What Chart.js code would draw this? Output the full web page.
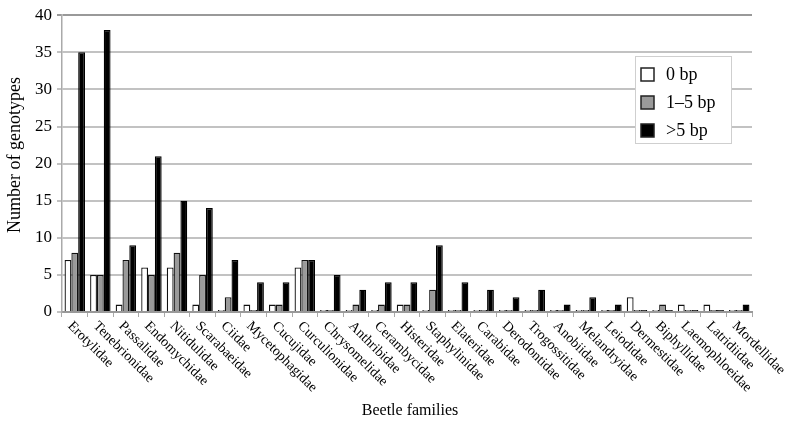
<!DOCTYPE html>
<html><head><meta charset="utf-8">
<script src="https://cdn.jsdelivr.net/npm/chart.js@4"></script>
<style>html,body{margin:0;padding:0;background:#fff}#wrap{width:790px;height:426px}</style>
</head><body><div id="wrap"><canvas id="c" width="790" height="426"></canvas></div>
<script>
const families = ['Erotylidae','Tenebrionidae','Passalidae','Endomychidae','Nitidulidae','Scarabaeidae','Ciidae','Mycetophagidae','Cucujidae','Curculionidae','Chrysomelidae','Anthribidae','Cerambycidae','Histeridae','Staphylinidae','Elateridae','Carabidae','Derodontidae','Trogossitidae','Anobiidae','Melandryidae','Leiodidae','Dermestidae','Biphyllidae','Laemophloeidae','Latridiidae','Mordellidae'];
const zeroBp      = [7,5,1,6,6,1,0,1,1,6,0,0,0,1,0,0,0,0,0,0,0,0,2,0,1,1,0];
const oneToFiveBp = [8,5,7,5,8,5,2,0,1,7,0,1,1,1,3,0,0,0,0,0,0,0,0,1,0,0,0];
const overFiveBp  = [35,38,9,21,15,14,7,4,4,7,5,3,4,4,9,4,3,2,3,1,2,1,0,0,0,0,1];
const seriesLabels = ['0 bp','1\u20135 bp','>5 bp'];
const seriesFill = ['#ffffff','#9a9a9a','#000000'];
const yTitle = 'Number of genotypes';
const xTitle = 'Beetle families';
const serif = '"Liberation Serif","DejaVu Serif",serif';

const drawPlugin = {
  id: 'customText',
  afterDraw(chart) {
    const ctx = chart.ctx, xs = chart.scales.x, a = chart.chartArea;
    ctx.save();
    ctx.fillStyle = '#000';
    // x category labels, rotated 45deg clockwise
    ctx.font = '14px ' + serif;
    ctx.textAlign = 'left'; ctx.textBaseline = 'top';
    families.forEach((f, i) => {
      const x = xs.getPixelForValue(i);
      ctx.save();
      ctx.translate(x, a.bottom + 7);
      ctx.rotate(Math.PI / 4);
      ctx.fillText(f, 0, 0);
      ctx.restore();
    });
    // x title
    ctx.font = '16px ' + serif;
    ctx.textAlign = 'center'; ctx.textBaseline = 'middle';
    ctx.fillText(xTitle, 410, 411);
    // y title
    ctx.font = '18px ' + serif;
    ctx.save();
    ctx.translate(15, 155);
    ctx.rotate(-Math.PI / 2);
    ctx.fillText(yTitle, 0, 0);
    ctx.restore();
    // legend
    ctx.fillStyle = '#fff';
    ctx.fillRect(635, 56, 96, 87);
    ctx.strokeStyle = '#cfcfcf'; ctx.lineWidth = 1;
    ctx.strokeRect(635.5, 56.5, 96, 87);
    const rows = [74, 102, 130];
    ctx.font = '18px ' + serif;
    ctx.textAlign = 'left'; ctx.textBaseline = 'middle';
    seriesLabels.forEach((lab, i) => {
      ctx.fillStyle = seriesFill[i];
      ctx.fillRect(641, rows[i] - 6, 13, 13);
      ctx.strokeStyle = '#222'; ctx.lineWidth = 1.5;
      ctx.strokeRect(641, rows[i] - 6, 13, 13);
      ctx.fillStyle = '#000';
      ctx.fillText(lab, 666, rows[i] + 1);
    });
    ctx.restore();
  }
};

new Chart(document.getElementById('c'), {
  type: 'bar',
  data: {
    labels: families,
    datasets: [
      { label: seriesLabels[0], data: zeroBp, backgroundColor: seriesFill[0], borderColor: '#111', borderWidth: 1.3 },
      { label: seriesLabels[1], data: oneToFiveBp, backgroundColor: seriesFill[1], borderColor: '#111', borderWidth: 1.3 },
      { label: seriesLabels[2], data: overFiveBp, backgroundColor: seriesFill[2], borderColor: '#000', borderWidth: 1.3 }
    ]
  },
  options: {
    responsive: false,
    animation: false,
    layout: { padding: { left: 0, top: 10, right: 38, bottom: 0 } },
    datasets: { bar: { categoryPercentage: 0.8, barPercentage: 1.0, minBarLength: 2 } },
    plugins: { legend: { display: false }, tooltip: { enabled: false } },
    scales: {
      x: {
        afterFit(s) { s.height = 114; },
        ticks: { display: false },
        grid: { display: true, drawOnChartArea: false, drawTicks: true, tickLength: 5, color: '#aaa', offset: true },
        border: { display: true, color: '#999', width: 2 }
      },
      y: {
        min: 0, max: 40,
        afterFit(s) { s.width = 62; },
        ticks: { stepSize: 5, color: '#000', font: { family: serif, size: 17 }, padding: 5 },
        grid: {
          color: (c) => (c.tick && c.tick.value === 40 ? '#999' : '#c2c2c2'),
          lineWidth: 2, tickLength: 5
        },
        border: { display: true, color: '#aaa', width: 1.5 }
      }
    }
  },
  plugins: [drawPlugin]
});
</script>
</body></html>
